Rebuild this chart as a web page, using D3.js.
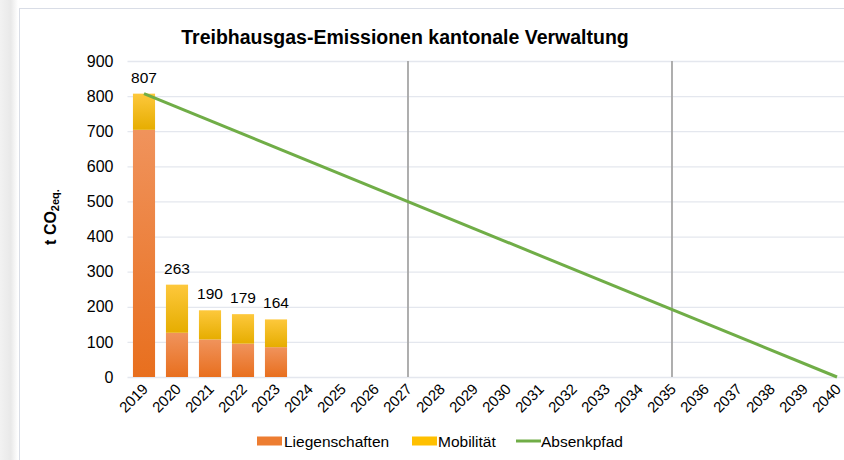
<!DOCTYPE html>
<html>
<head>
<meta charset="utf-8">
<script src="https://cdn.jsdelivr.net/npm/d3@7"></script>
<style>
  body { margin: 0; background: #fff; }
  text { font-family: "Liberation Sans", Arial, sans-serif; fill: #000; }
</style>
</head>
<body>
<script>
// data
const years = d3.range(2019, 2041).map(String)
const barYears = ["2019", "2020", "2021", "2022", "2023"]
const liegenschaften = [704, 126, 107, 95, 85]
const mobilitaet = [103, 137, 83, 84, 79]
const totals = [807, 263, 190, 179, 164]
const pathYears = ["2019", "2040"]
const pathValues = [807, 0]
const markerYears = ["2027", "2035"]
const yTicks = [0, 100, 200, 300, 400, 500, 600, 700, 800, 900]

const W = 844, H = 460
const margin = {top: 61, right: 0, bottom: 83, left: 127.5}
const height = H - margin.top - margin.bottom

const svg = d3.select("body").append("svg")
  .attr("width", W)
  .attr("height", H)

const defs = svg.append("defs")
function grad(id, c1, c2) {
  const g = defs.append("linearGradient").attr("id", id)
    .attr("x1", 0).attr("y1", 0).attr("x2", 0).attr("y2", 1)
  g.append("stop").attr("offset", "0%").attr("stop-color", c1)
  g.append("stop").attr("offset", "100%").attr("stop-color", c2)
}
grad("gOrange", "#f0935c", "#e86f1e")
grad("gYellow", "#fdc83c", "#e6ad00")
const shadow = defs.append("linearGradient").attr("id", "gShadow")
shadow.append("stop").attr("offset", "0%").attr("stop-color", "#f2f2f2")
shadow.append("stop").attr("offset", "60%").attr("stop-color", "#e9e9e9")
shadow.append("stop").attr("offset", "100%").attr("stop-color", "#ffffff")

//frame
svg.append("rect").attr("x", 0).attr("y", 0).attr("width", 18).attr("height", H)
  .attr("fill", "url(#gShadow)")
svg.append("rect").attr("x", 19.5).attr("y", 8.5).attr("width", W).attr("height", H)
  .attr("fill", "#fff").attr("stroke", "#d9dde6")

//scales
const x = d3.scaleBand().domain(years)
  .range([margin.left, margin.left + 33 * years.length]).paddingInner(0.33).paddingOuter(0.165)
const y = d3.scaleLinear().domain([0, 900]).range([margin.top + height, margin.top])
const cx = d => x(d) + x.bandwidth() / 2

//title
svg.append("text")
  .attr("x", 405).attr("y", 44)
  .attr("text-anchor", "middle")
  .attr("font-size", 19.5).attr("font-weight", "bold")
  .text("Treibhausgas-Emissionen kantonale Verwaltung")

//grid
svg.append("g").selectAll("line").data(yTicks).join("line")
  .attr("x1", margin.left).attr("x2", W)
  .attr("y1", d => y(d) + 0.5).attr("y2", d => y(d) + 0.5)
  .attr("stroke", "#e4e7ee").attr("stroke-width", 1.3)

//y axis
const yAxis = svg.append("g")
  .attr("transform", "translate(" + (margin.left - 14) + ",0)")
  .call(d3.axisLeft(y).tickValues(yTicks).tickSize(0).tickPadding(0))
yAxis.select(".domain").remove()
yAxis.selectAll("text").attr("font-size", 16).attr("font-family", "Liberation Sans, Arial, sans-serif")

const ylab = svg.append("text")
  .attr("transform", "translate(56," + 217 + ") rotate(-90)")
  .attr("text-anchor", "middle")
  .attr("font-size", 16).attr("font-weight", "bold")
ylab.append("tspan").text("t CO")
ylab.append("tspan").attr("font-size", 11).attr("dy", 3).text("2eq.")

//x axis
const xAxis = svg.append("g")
  .attr("transform", "translate(0," + y(0) + ")")
  .call(d3.axisBottom(x).tickSize(0).tickPadding(0))
xAxis.select(".domain").remove()
xAxis.selectAll("text")
  .attr("font-size", 15).attr("font-family", "Liberation Sans, Arial, sans-serif")
  .attr("text-anchor", "end")
  .attr("dy", 0)
  .attr("transform", "translate(5,13) rotate(-45)")

//marker lines
svg.append("g").selectAll("line").data(markerYears).join("line")
  .attr("x1", d => cx(d)).attr("x2", d => cx(d))
  .attr("y1", y(900)).attr("y2", y(0))
  .attr("stroke", "#a6a6a6").attr("stroke-width", 1.8)

//bars
const bars = barYears.map((d, i) => ({year: d, l: liegenschaften[i], m: mobilitaet[i], t: totals[i]}))
svg.append("g").selectAll("rect").data(bars).join("rect")
  .attr("x", d => x(d.year)).attr("width", x.bandwidth())
  .attr("y", d => y(d.l)).attr("height", d => y(0) - y(d.l))
  .attr("fill", "url(#gOrange)")
svg.append("g").selectAll("rect").data(bars).join("rect")
  .attr("x", d => x(d.year)).attr("width", x.bandwidth())
  .attr("y", d => y(d.l + d.m)).attr("height", d => y(d.l) - y(d.l + d.m))
  .attr("fill", "url(#gYellow)")
svg.append("g").selectAll("text").data(bars).join("text")
  .attr("x", d => cx(d.year)).attr("y", d => y(d.t) - 11)
  .attr("text-anchor", "middle").attr("font-size", 15.5)
  .text(d => d.t)

//d3 line
const line = d3.line().x(d => cx(d[0])).y(d => y(d[1]))
svg.append("path")
  .datum(pathYears.map((d, i) => [d, pathValues[i]]))
  .attr("d", line)
  .attr("fill", "none").attr("stroke", "#70ad47").attr("stroke-width", 3)

//legend
const lg = svg.append("g").attr("transform", "translate(0,441)")
lg.append("rect").attr("x", 257).attr("y", -4.5).attr("width", 25).attr("height", 9).attr("fill", "#ed7d31")
lg.append("text").attr("x", 284).attr("y", 5.5).attr("font-size", 15.5).text("Liegenschaften")
lg.append("rect").attr("x", 412).attr("y", -4.5).attr("width", 25).attr("height", 9).attr("fill", "#ffc000")
lg.append("text").attr("x", 438).attr("y", 5.5).attr("font-size", 15.5).text("Mobilität")
lg.append("line").attr("x1", 516).attr("x2", 541).attr("y1", 0).attr("y2", 0)
  .attr("stroke", "#70ad47").attr("stroke-width", 3)
lg.append("text").attr("x", 541).attr("y", 5.5).attr("font-size", 15.5).text("Absenkpfad")
</script>
</body>
</html>
